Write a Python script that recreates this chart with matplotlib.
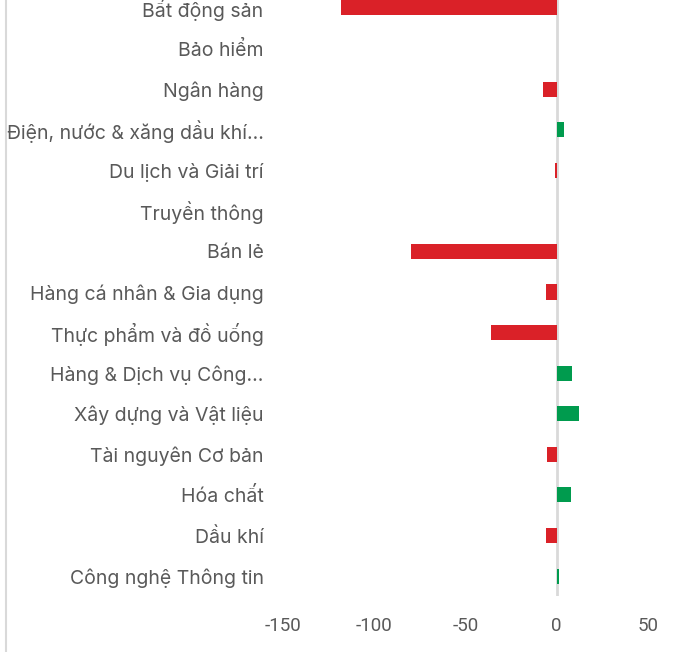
import matplotlib
matplotlib.use("Agg")
import matplotlib.pyplot as plt
from matplotlib.lines import Line2D

categories = ["Bất động sản", "Bảo hiểm", "Ngân hàng", "Điện, nước & xăng dầu khí…",
              "Du lịch và Giải trí", "Truyền thông", "Bán lẻ", "Hàng cá nhân & Gia dụng",
              "Thực phẩm và đồ uống", "Hàng & Dịch vụ Công…", "Xây dựng và Vật liệu",
              "Tài nguyên Cơ bản", "Hóa chất", "Dầu khí", "Công nghệ Thông tin"]
values = [-118, 0, -7.5, 4, -0.8, 0, -80, -6, -36, 8.5, 12, -5.5, 8, -6, 1.2]
xticks = [-150, -100, -50, 0, 50]

RED = "#DA2128"
GREEN = "#009B4E"
TXT = "#595959"

plt.rcParams['font.family'] = ['Inter', 'DejaVu Sans']

W, H = 675, 652
fig = plt.figure(figsize=(W/100, H/100), dpi=100)
left, right = 283, 648
top, bottom = -12.3, 596.3
ax = fig.add_axes([left/W, (H-bottom)/H, (right-left)/W, (bottom-top)/H])

y = list(range(len(categories)))
colors = [GREEN if v > 0 else RED for v in values]
ax.barh(y, values, height=0.37, color=colors, zorder=2)
ax.axvline(0, color="#D9D9D9", lw=2, zorder=1)

ax.set_ylim(len(categories)-0.5, -0.5)
ax.set_xlim(-150, 50)
ax.set_yticks(y)
ax.set_yticklabels(categories, fontsize=14, color=TXT)
ax.set_xticks(xticks)
ax.set_xticklabels([str(t) for t in xticks], fontsize=13.5, color=TXT,
                   family=['Roboto', 'DejaVu Sans'])
ax.tick_params(axis='y', length=0, pad=14)
ax.tick_params(axis='x', length=0, pad=15)
for s in ax.spines.values():
    s.set_visible(False)

fig.add_artist(Line2D([6/W, 6/W], [0, 1], transform=fig.transFigure, color="#D9D9D9", lw=1.5))

fig.savefig("out.png", dpi=100, facecolor="white")
